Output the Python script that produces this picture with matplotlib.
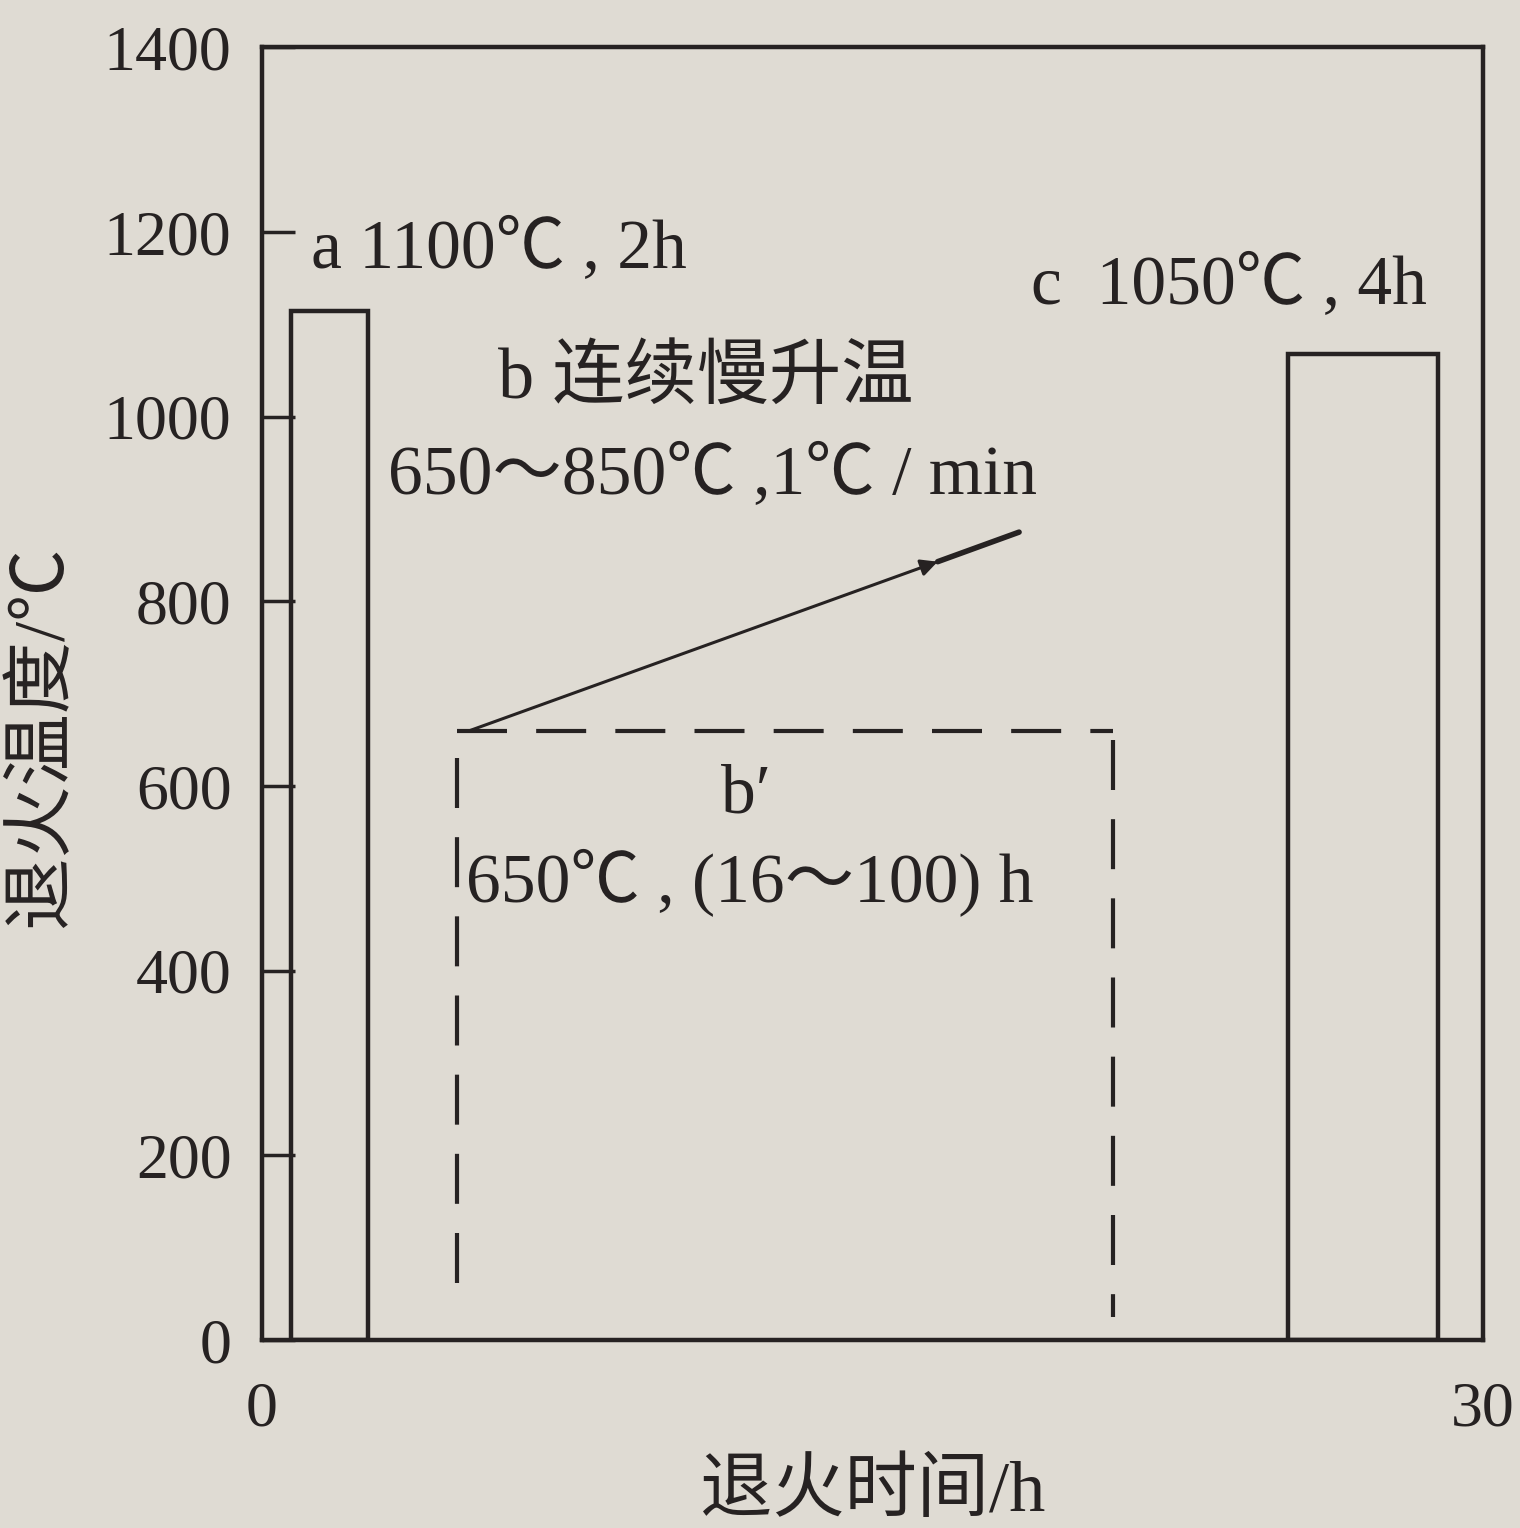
import matplotlib.pyplot as plt

# data
bar_left = [0.7, 25.2]
bar_width = [1.9, 3.7]
bar_top = [1115, 1068]

hold_x = [4.8, 20.9]      # b' dashed box
hold_top = 660
hold_bottom = [40, 25]

ramp_x = [5.1, 18.6]      # b ramp line
ramp_y = [660, 875]

yticks = [0, 200, 400, 600, 800, 1000, 1200, 1400]
xticks = [0, 30]

bg = '#dfdbd3'
ink = '#262222'
fam = ['Liberation Serif', 'Noto Sans CJK SC', 'DejaVu Sans']
plt.rcParams['font.family'] = fam

fig = plt.figure(figsize=(15.2, 15.28), dpi=100, facecolor=bg)
ax = fig.add_axes([0.1724, 0.123, 0.8033, 0.846], facecolor=bg)

#####bars a and c
ax.bar(bar_left, bar_top, width=bar_width, align='edge', fill=False,
       edgecolor=ink, linewidth=3.2)

#####dashed b' box
dash = dict(color=ink, linewidth=3, dashes=(12, 7))
ax.plot([hold_x[0], hold_x[1]], [hold_top, hold_top], **dash)
ax.plot([hold_x[0], hold_x[0]], [hold_top - 30, hold_bottom[0]], **dash)
ax.plot([hold_x[1], hold_x[1]], [hold_top - 10, hold_bottom[1]], **dash)

#####ramp arrow
ax.annotate('', xy=(16.6, 843), xytext=(ramp_x[0], ramp_y[0]),
            arrowprops=dict(arrowstyle='-|>', color=ink, lw=2.2,
                            mutation_scale=25, shrinkA=0, shrinkB=0))
ax.plot([16.6, ramp_x[1]], [843, ramp_y[1]], color=ink, linewidth=4,
        solid_capstyle='round')

#####labels
fs = 50
ft = 46
fl = 52
ax.text(1.2, 1180, 'a 1100℃ , 2h', fontsize=fs, color=ink, va='center')
ax.text(18.9, 1140, 'c  1050℃ , 4h', fontsize=fs, color=ink, va='center')
ax.text(5.8, 1040, 'b 连续慢升温', fontsize=fl, color=ink, va='center')
ax.text(3.1, 935, '650～850℃ ,1℃ / min', fontsize=fs, color=ink, va='center')
ax.text(11.9, 590, 'b′', fontsize=fs, color=ink, va='center', ha='center')
ax.text(5.0, 495, '650℃ , (16～100) h', fontsize=fs, color=ink, va='center')

ax.set_xlim(0, 30)
ax.set_ylim(0, 1400)
ax.set_yticks(yticks)
ax.set_xticks(xticks)
ax.tick_params(axis='y', direction='in', length=24, width=2.5, pad=22,
               labelsize=ft, colors=ink)
ax.tick_params(axis='x', length=0, pad=30, labelsize=ft, colors=ink)
for s in ax.spines.values():
    s.set_linewidth(3.2)
    s.set_color(ink)

ax.set_ylabel('退火温度/℃', fontsize=fl, color=ink)
ax.yaxis.set_label_coords(-0.152, 0.467)
ax.set_xlabel('退火时间/h', fontsize=fl, color=ink, labelpad=14)

fig.savefig('out.png', dpi=100, facecolor=bg)
